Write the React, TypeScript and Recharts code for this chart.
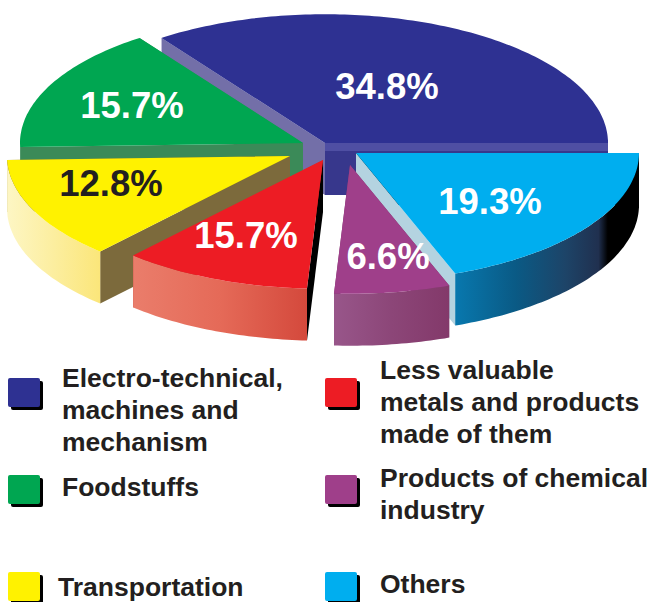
import React from "react";
import { PieChart, Pie, Legend } from "recharts";

// Categories in the order the pie runs, counter-clockwise from the right.
const categories = [
  "Electro-technical, machines and mechanism",
  "Foodstuffs",
  "Transportation",
  "Less valuable metals and products made of them",
  "Products of chemical industry",
  "Others",
];
// Size of each slice as drawn. The red slice is drawn at about 10.8% although it is printed as 15.7%.
const drawnShares = [34.8, 15.7, 12.8, 10.8, 6.6, 19.3];
// The percentages printed on the slices.
const printedLabels = ["34.8%", "15.7%", "12.8%", "15.7%", "6.6%", "19.3%"];
const legendLines = [
  ["Electro-technical,", "machines and", "mechanism"],
  ["Foodstuffs"],
  ["Transportation"],
  ["Less valuable", "metals and products", "made of them"],
  ["Products of chemical", "industry"],
  ["Others"],
];

// Styling
const topFill = ["#2e3192", "#00a651", "#fff200", "#ed1c24", "#9f3f8a", "#00aeef"];
const startWallFill = ["#37378c", "#3b8a58", "#7c6a3c", "#c0392f", "#7d3a6c", "#b4d3e0"];
const endWallFill = ["#736fa8", "#3b8a58", "#7c6a3c", "#000000", "#7d3a6c", "#000000"];
const rimStops: string[][] = [
  ["#2e3192", "#2e3192"],
  ["#3b8a58", "#3b8a58"],
  ["#fdf6c4", "#fbe67a"],
  ["#ea7d6b", "#e56a58", "#d4493c"],
  ["#98568a", "#8c4678", "#83396a"],
  ["#0878ae", "#0a5a85", "#1d4468", "#20304f", "#000000", "#000000"],
];
const rimOffsets: number[][] = [
  [0, 1],
  [0, 1],
  [0, 1],
  [0, 0.5, 1],
  [0, 0.5, 1],
  [0, 0.33, 0.6, 0.78, 0.83, 1],
];
const explodeX = [0, -22, -35, -2, 25, 31];
const explodeY = [0, 0, 13, 17, 22, 10];
const depth = [52, 46, 52, 52, 52, 52];
const labelX = [387, 132, 111, 246, 388, 490];
const labelY = [99, 118, 196, 248, 269, 214];
const labelFill = ["#ffffff", "#ffffff", "#231f20", "#ffffff", "#ffffff", "#ffffff"];
const swatchX = [8, 8, 8, 325, 325, 325];
const swatchY = [378, 475, 572, 378, 475, 572];
const textX = [62, 62, 58, 380, 380, 380];
const textY = [362, 471, 571, 354, 462, 568];

const FLATTEN = 0.455;
const FONT = '"Liberation Sans", Arial, sans-serif';
const RAD = Math.PI / 180;

const pieData = categories.map((name, i) => ({ name, share: drawnShares[i] }));

function Slice3D(props: any, only: "rest" | "front") {
  const i = categories.indexOf(props.name ?? props.payload?.name);
  const isFront = i === 4;
  if (i < 0 || (only === "front") !== isFront) return <g />;
  const { startAngle, endAngle, outerRadius: r } = props;
  const ax = props.cx + explodeX[i];
  const ay = props.cy + explodeY[i];
  const ry = r * FLATTEN;
  const d = depth[i];
  const pt = (deg: number): [number, number] => [
    ax + r * Math.cos(deg * RAD),
    ay - ry * Math.sin(deg * RAD),
  ];
  const arc = (from: number, to: number, dy = 0, move = true) => {
    const parts: string[] = [];
    for (let a = from; a <= to + 0.001; a += 1) {
      const p = pt(Math.min(a, to));
      parts.push(`${parts.length === 0 && move ? "M" : "L"}${p[0].toFixed(1)} ${(p[1] + dy).toFixed(1)}`);
    }
    const last = pt(to);
    parts.push(`L${last[0].toFixed(1)} ${(last[1] + dy).toFixed(1)}`);
    return parts.join(" ");
  };
  const wall = (deg: number, h: number) => {
    const p = pt(deg);
    return `M${ax} ${ay} L${p[0]} ${p[1]} L${p[0]} ${p[1] + h} L${ax} ${ay + h} Z`;
  };
  const rimFrom = Math.max(startAngle, 180);
  const rimTo = Math.min(endAngle, 360);
  let rim = "";
  if (rimTo > rimFrom) {
    const back: string[] = [];
    for (let a = rimTo; a >= rimFrom; a -= 1) {
      const p = pt(a);
      back.push(`L${p[0].toFixed(1)} ${(p[1] + d).toFixed(1)}`);
    }
    const s = pt(rimFrom);
    back.push(`L${s[0].toFixed(1)} ${(s[1] + d).toFixed(1)}`);
    rim = `${arc(rimFrom, rimTo)} ${back.join(" ")} Z`;
  }
  const gid = `rim-${i}`;
  const startWall = <path d={wall(startAngle, d)} fill={startWallFill[i]} />;
  const endWall = <path d={wall(endAngle, d)} fill={endWallFill[i]} />;
  return (
    <g>
      <defs>
        <linearGradient id={gid} x1="0" y1="0" x2="1" y2="0">
          {rimStops[i].map((c, k) => (
            <stop key={k} offset={rimOffsets[i][k]} stopColor={c} />
          ))}
        </linearGradient>
      </defs>
      {i === 5 ? endWall : startWall}
      {i === 5 ? startWall : endWall}
      {i === 0 && <path d={wall(startAngle, 8)} fill="#4f4fa3" />}
      {rim && <path d={rim} fill={`url(#${gid})`} />}
      <path d={`M${ax} ${ay} ${arc(startAngle, endAngle, 0, false)} Z`} fill={topFill[i]} />
      <text
        x={labelX[i]}
        y={labelY[i]}
        textAnchor="middle"
        fontFamily={FONT}
        fontWeight="bold"
        fontSize={36.5}
        fill={labelFill[i]}
      >
        {printedLabels[i]}
      </text>
    </g>
  );
}

function LegendPanel() {
  return (
    <div style={{ position: "relative", width: 648, height: 602, fontFamily: FONT }}>
      {categories.map((name, i) => (
        <React.Fragment key={name}>
          <div
            style={{
              position: "absolute",
              left: swatchX[i],
              top: swatchY[i],
              width: 32,
              height: 29,
              background: topFill[i],
              borderRadius: 2,
              boxShadow: "3px 3px 0 #000",
            }}
          />
          <div
            style={{
              position: "absolute",
              left: textX[i],
              top: textY[i],
              fontSize: 26.5,
              fontWeight: "bold",
              lineHeight: "32px",
              color: "#231f20",
              whiteSpace: "nowrap",
            }}
          >
            {legendLines[i].map((line) => (
              <div key={line}>{line}</div>
            ))}
          </div>
        </React.Fragment>
      ))}
    </div>
  );
}

export default function App() {
  return (
    <div style={{ position: "absolute", left: 0, top: 0, width: 648, height: 602, overflow: "hidden", background: "#fff" }}>
      <PieChart width={648} height={602} margin={{ top: 0, right: 0, bottom: 0, left: 0 }}>
        <Pie
          data={pieData}
          dataKey="share"
          nameKey="name"
          cx={325}
          cy={143}
          outerRadius={283}
          innerRadius={0}
          startAngle={0}
          endAngle={360}
          stroke="none"
          isAnimationActive={false}
          shape={(p: any) => Slice3D(p, "rest")}
        />
        <Pie
          data={pieData}
          dataKey="share"
          nameKey="name"
          cx={325}
          cy={143}
          outerRadius={283}
          innerRadius={0}
          startAngle={0}
          endAngle={360}
          stroke="none"
          isAnimationActive={false}
          shape={(p: any) => Slice3D(p, "front")}
        />
        <Legend
          content={() => <LegendPanel />}
          wrapperStyle={{ position: "absolute", left: 0, top: 0, width: 648, height: 602, bottom: "auto" }}
        />
      </PieChart>
    </div>
  );
}
